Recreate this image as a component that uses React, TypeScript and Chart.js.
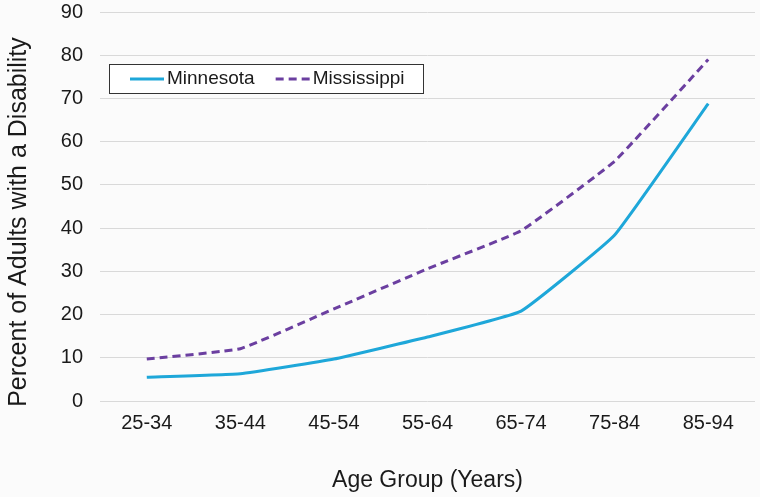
import React, { useEffect, useRef } from "react";
import { Chart, registerables } from "chart.js";

Chart.register(...registerables);

const categories = ["25-34", "35-44", "45-54", "55-64", "65-74", "75-84", "85-94"];
const minnesota = [5.5, 6.3, 9.7, 14.8, 20.8, 38.4, 68.8];
const mississippi = [9.7, 12.1, 21.3, 30.6, 39.4, 55.5, 79.0];
const yTicks = [0, 10, 20, 30, 40, 50, 60, 70, 80, 90];
const yTitle = "Percent of Adults with a Disability";
const xTitle = "Age Group (Years)";

const FONT = "'Liberation Sans', Arial, sans-serif";
const TEXT = "#1a1a1a";

const boxLegend = {
  id: "boxLegend",
  afterDraw(chart: any) {
    const ctx = chart.ctx;
    const ca = chart.chartArea;
    const x0 = ca.left + 9;
    const y0 = ca.top + 52;
    const w = 314;
    const h = 29;
    ctx.save();
    ctx.fillStyle = "#ffffff";
    ctx.fillRect(x0, y0, w, h);
    ctx.strokeStyle = "#333333";
    ctx.lineWidth = 1;
    ctx.strokeRect(x0 + 0.5, y0 + 0.5, w, h);
    ctx.font = `19px ${FONT}`;
    ctx.textBaseline = "middle";
    let x = x0 + 21;
    const cy = y0 + h / 2 + 0.5;
    chart.data.datasets.forEach((ds: any) => {
      ctx.beginPath();
      ctx.strokeStyle = ds.borderColor;
      ctx.lineWidth = 3;
      ctx.setLineDash(ds.borderDash || []);
      ctx.moveTo(x, cy);
      ctx.lineTo(x + 34, cy);
      ctx.stroke();
      ctx.setLineDash([]);
      ctx.fillStyle = TEXT;
      ctx.fillText(ds.label, x + 37, cy);
      x += 37 + ctx.measureText(ds.label).width + 21;
    });
    ctx.restore();
  },
};

const yTitlePlugin = {
  id: "yTitlePlugin",
  afterDraw(chart: any) {
    const ctx = chart.ctx;
    ctx.save();
    ctx.translate(19, 222);
    ctx.rotate(-Math.PI / 2);
    ctx.font = `25px ${FONT}`;
    ctx.fillStyle = TEXT;
    ctx.textAlign = "center";
    ctx.textBaseline = "middle";
    ctx.fillText(yTitle, 0, 0);
    ctx.restore();
  },
};

export default function App() {
  const ref = useRef<HTMLCanvasElement | null>(null);
  useEffect(() => {
    document.body.style.margin = "0";
    const chart = new Chart(ref.current as HTMLCanvasElement, {
      type: "line",
      data: {
        labels: categories,
        datasets: [
          {
            label: "Minnesota",
            data: minnesota,
            borderColor: "#1ea7d9",
            backgroundColor: "#1ea7d9",
            borderWidth: 3,
            pointRadius: 0,
            tension: 0.1,
          },
          {
            label: "Mississippi",
            data: mississippi,
            borderColor: "#6b3fa0",
            backgroundColor: "#6b3fa0",
            borderWidth: 3,
            borderDash: [8, 5],
            pointRadius: 0,
            tension: 0.1,
          },
        ],
      },
      plugins: [boxLegend, yTitlePlugin],
      options: {
        animation: false,
        responsive: false,
        maintainAspectRatio: false,
        layout: { padding: { left: 0, right: 5, top: 12, bottom: 0 } },
        plugins: {
          legend: { display: false },
          tooltip: { enabled: false },
        },
        scales: {
          x: {
            offset: true,
            grid: { display: false, drawTicks: false },
            border: { display: false },
            ticks: { color: TEXT, font: { size: 20, family: FONT }, padding: 10 },
            title: {
              display: true,
              text: xTitle,
              color: TEXT,
              font: { size: 23, family: FONT },
              padding: { top: 0, bottom: 3 },
            },
            afterFit(scale: any) {
              scale.height = 96;
              scale.paddingLeft = 0;
              scale.paddingRight = 0;
            },
          },
          y: {
            min: 0,
            max: 90,
            afterBuildTicks(scale: any) {
              scale.ticks = yTicks.map((v) => ({ value: v }));
            },
            grid: { color: "#d9d9d9", lineWidth: 1, drawTicks: false },
            border: { display: false },
            ticks: { color: TEXT, font: { size: 20, family: FONT }, padding: 17 },
            afterFit(scale: any) {
              scale.width = 100;
              scale.paddingTop = 0;
              scale.paddingBottom = 0;
            },
          },
        },
      },
    } as any);
    return () => chart.destroy();
  }, []);
  return (
    <div style={{ width: 760, height: 497, background: "#fbfbfb" }}>
      <canvas ref={ref} width={760} height={497} />
    </div>
  );
}
